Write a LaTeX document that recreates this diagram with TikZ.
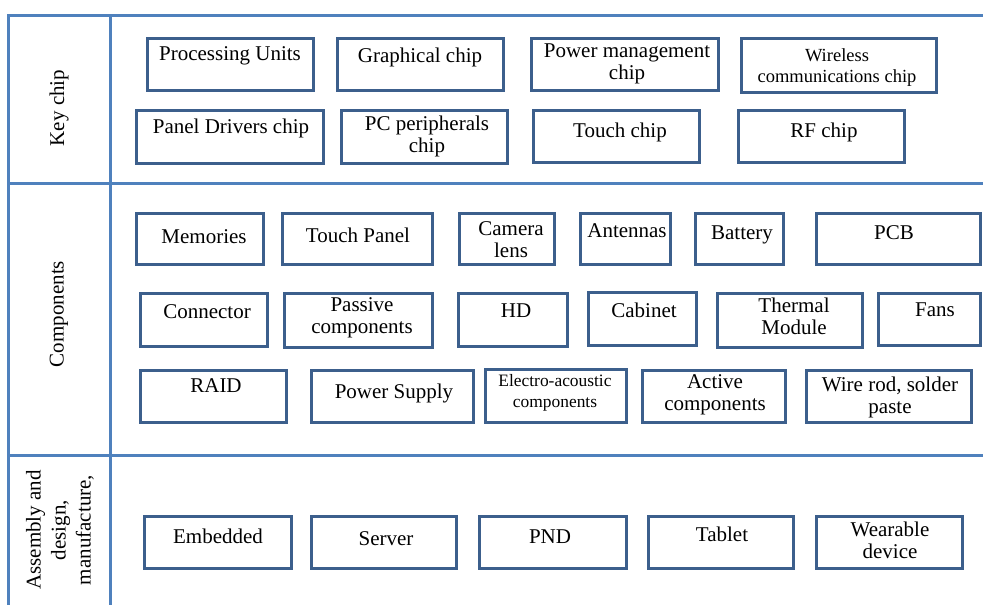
\documentclass[tikz,border=0pt]{standalone}
\usepackage{fontspec}
\setmainfont{Liberation Serif}
\definecolor{frameblue}{HTML}{4F81BD}
\definecolor{boxblue}{HTML}{3C5F8C}
\newcommand\bx[5]{\node[box, minimum width={(#4)-(#2)}, minimum height={(#5)-(#3)}] (#1) at ({((#2)+(#4))/2},{((#3)+(#5))/2}) {};}
% text node: anchor at the baseline of its LAST line
\newcommand\tx[4]{\node[txt,anchor=base] (#1) at (#2,#3) {#4};}
\begin{document}
\begin{tikzpicture}[x=1pt,y=-1pt,
  box/.style={draw=boxblue,line width=3pt,inner sep=0pt,outer sep=0pt},
  txt/.style={font=\fontsize{21}{21.5}\selectfont,align=center,inner sep=0pt},
  smalltxt/.style={font=\fontsize{18.5}{21}\selectfont},
  tinytxt/.style={font=\fontsize{17.4}{21}\selectfont},
  frameline/.style={draw=frameblue,line width=3pt},
  side/.style={font=\fontsize{21}{25}\selectfont,align=center,inner sep=0pt,rotate=90}]
\useasboundingbox (0,0) rectangle (983,605);
% frame
\draw[frameline] (983,15) -- (8,15) -- (8,605);
\draw[frameline] (110,15) -- (110,605);
\draw[frameline] (8,183) -- (983,183);
\draw[frameline] (8,455) -- (983,455);
% side labels
\node[side] (lkey) at (59,108) {Key chip};
\node[side] (lcomp) at (59,314) {Components};
\node[side] (lasm) at (60,530) {Assembly and\\design,\\manufacture,};
% Key chip row 1
\bx{pu}{147}{38}{313}{90}      \tx{puT}{230}{60}{Processing Units}
\bx{gc}{337}{38}{503}{90}      \tx{gcT}{420}{62}{Graphical chip}
\bx{pm}{531}{38}{718}{90}      \tx{pmT}{627}{79}{Power management\\chip}
\bx{wc}{741}{38}{936}{92}      \node[txt,smalltxt,anchor=base] (wcT) at (837,82) {Wireless\\communications chip};
% Key chip row 2
\bx{pd}{136}{110}{323}{163}    \tx{pdT}{231}{133}{Panel Drivers chip}
\bx{pc}{341}{110}{507}{163}    \tx{pcT}{427}{152}{PC peripherals\\chip}
\bx{tc}{533}{110}{699}{162}    \tx{tcT}{620}{137}{Touch chip}
\bx{rf}{738}{110}{904}{162}    \tx{rfT}{824}{137}{RF chip}
% Components row 1
\bx{me}{136}{213}{263}{264}    \tx{meT}{204}{243}{Memories}
\bx{tp}{282}{213}{432}{264}    \tx{tpT}{358}{242}{Touch Panel}
\bx{cl}{459}{213}{554}{264}    \tx{clT}{511}{257}{Camera\\lens}
\bx{an}{580}{213}{670}{264}    \tx{anT}{627}{237}{Antennas}
\bx{ba}{695}{213}{783}{264}    \tx{baT}{742}{239}{Battery}
\bx{pb}{816}{213}{980}{264}    \tx{pbT}{894}{239}{PCB}
% Components row 2
\bx{co}{140}{293}{267}{346}    \tx{coT}{207}{318}{Connector}
\bx{pa}{284}{293}{432}{347}    \tx{paT}{362}{333}{Passive\\components}
\bx{hd}{458}{293}{567}{346}    \tx{hdT}{516}{317}{HD}
\bx{cb}{588}{292}{696}{345}    \tx{cbT}{644}{317}{Cabinet}
\bx{tm}{717}{293}{862}{347}    \tx{tmT}{794}{334}{Thermal\\Module}
\bx{fa}{878}{293}{980}{345}    \tx{faT}{935}{316}{Fans}
% Components row 3
\bx{ra}{140}{370}{286}{422}    \tx{raT}{216}{392}{RAID}
\bx{ps}{311}{370}{473}{422}    \tx{psT}{394}{398}{Power Supply}
\bx{ea}{485}{369}{626}{422}    \node[txt,tinytxt,anchor=base] (eaT) at (555,407) {Electro-acoustic\\components};
\bx{ac}{642}{370}{785}{422}    \tx{acT}{715}{410}{Active\\components}
\bx{wr}{806}{370}{971}{422}    \tx{wrT}{890}{413}{Wire rod, solder\\paste}
% Assembly row
\bx{em}{144}{516}{291}{568}    \tx{emT}{218}{543}{Embedded}
\bx{se}{311}{516}{456}{568}    \tx{seT}{386}{545}{Server}
\bx{pn}{479}{516}{626}{568}    \tx{pnT}{550}{543}{PND}
\bx{ta}{648}{516}{793}{568}    \tx{taT}{722}{541}{Tablet}
\bx{we}{816}{516}{962}{568}    \tx{weT}{890}{558}{Wearable\\device}
\end{tikzpicture}
\end{document}
